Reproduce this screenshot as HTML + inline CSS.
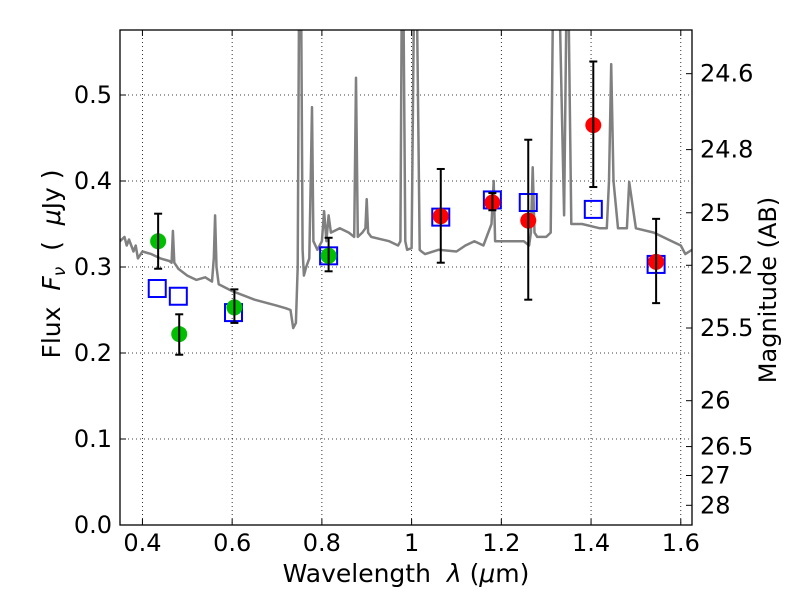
<!DOCTYPE html>
<html><head><meta charset="utf-8"><style>
body{margin:0;background:#fff}
svg text{font-family:"DejaVu Sans","Liberation Sans",sans-serif;fill:#000}
</style></head><body>
<svg id="c" width="800" height="600" xmlns="http://www.w3.org/2000/svg">
<defs><clipPath id="clip"><rect x="120" y="30" width="572" height="495"/></clipPath></defs>
<rect x="0" y="0" width="800" height="600" fill="#fff"/>
<g id="grid"></g>
<g id="spec" clip-path="url(#clip)"></g>
<g id="marks"></g>
<rect x="120" y="30" width="572" height="495" fill="none" stroke="#000" stroke-width="1.3"/>
<g id="axes"></g>
<text x="406" y="582" font-size="25" text-anchor="middle" xml:space="preserve">Wavelength  <tspan font-style="italic">λ</tspan> (<tspan font-style="italic">μ</tspan>m)</text>
<text transform="translate(60,264) rotate(-90)" font-size="25" text-anchor="middle" xml:space="preserve">Flux  <tspan font-style="italic">F<tspan font-size="17" dy="5">ν</tspan></tspan><tspan dy="-5">  (  </tspan><tspan font-style="italic">μ</tspan>Jy )</text>
<text transform="translate(776,290) rotate(-90)" font-size="24" text-anchor="middle">Magnitude (AB)</text>
</svg>
<script>
const xTicks=[0.4,0.6,0.8,1.0,1.2,1.4,1.6];
const xTickLabels=["0.4","0.6","0.8","1","1.2","1.4","1.6"];
const yTicks=[0,0.1,0.2,0.3,0.4,0.5];
const yTickLabels=["0.0","0.1","0.2","0.3","0.4","0.5"];
const magTicks=[24.6,24.8,25,25.2,25.5,26,26.5,27,28];
const magTickLabels=["24.6","24.8","25","25.2","25.5","26","26.5","27","28"];
const specLam=[0.35,0.36,0.365,0.37,0.38,0.385,0.39,0.40,0.42,0.44,0.46,0.465,0.468,0.471,0.48,0.50,0.52,0.54,0.555,0.559,0.562,0.565,0.57,0.60,0.65,0.70,0.72,0.73,0.736,0.742,0.746,0.749,0.751,0.754,0.757,0.76,0.765,0.772,0.775,0.778,0.781,0.79,0.80,0.805,0.81,0.815,0.82,0.84,0.86,0.872,0.876,0.88,0.89,0.897,0.9,0.903,0.91,0.95,0.97,0.975,0.978,0.982,0.986,0.99,1.0,1.005,1.008,1.012,1.018,1.022,1.03,1.06,1.1,1.12,1.14,1.16,1.178,1.183,1.186,1.19,1.2,1.25,1.262,1.266,1.27,1.274,1.28,1.30,1.31,1.315,1.32,1.33,1.34,1.345,1.35,1.356,1.36,1.38,1.42,1.435,1.44,1.445,1.45,1.46,1.475,1.48,1.485,1.5,1.54,1.58,1.6,1.61,1.625];
const specFlux=[0.33,0.335,0.325,0.332,0.318,0.325,0.31,0.318,0.315,0.31,0.307,0.305,0.342,0.305,0.298,0.29,0.285,0.288,0.283,0.31,0.36,0.3,0.28,0.272,0.262,0.255,0.252,0.25,0.229,0.235,0.3,0.6,0.6,0.6,0.32,0.29,0.3,0.31,0.4,0.486,0.33,0.32,0.33,0.365,0.33,0.36,0.34,0.345,0.34,0.335,0.52,0.335,0.34,0.345,0.379,0.34,0.335,0.33,0.325,0.33,0.6,0.6,0.33,0.32,0.322,0.6,0.6,0.6,0.32,0.318,0.315,0.32,0.318,0.325,0.33,0.325,0.35,0.40,0.33,0.33,0.33,0.33,0.325,0.34,0.416,0.34,0.335,0.335,0.34,0.6,0.6,0.6,0.36,0.6,0.6,0.35,0.35,0.35,0.345,0.345,0.4,0.536,0.4,0.345,0.345,0.345,0.399,0.345,0.34,0.33,0.325,0.315,0.32,0.322];
const greenLam=[0.435,0.482,0.605,0.815];
const greenFlux=[0.330,0.222,0.253,0.313];
const greenLo=[0.298,0.198,0.235,0.295];
const greenHi=[0.362,0.245,0.274,0.334];
const redLam=[1.065,1.18,1.26,1.405,1.545];
const redFlux=[0.359,0.375,0.354,0.465,0.306];
const redLo=[0.305,0.366,0.262,0.393,0.258];
const redHi=[0.414,0.386,0.448,0.539,0.356];
const modelLam=[0.433,0.48,0.603,0.815,1.065,1.18,1.26,1.405,1.545];
const modelFlux=[0.275,0.266,0.247,0.313,0.358,0.378,0.375,0.367,0.303];

const X0=120,X1=692,Y0=525,Y1=30,xmin=0.35,xmax=1.625,ymin=0,ymax=0.5756;
const sx=v=>X0+(v-xmin)/(xmax-xmin)*(X1-X0);
const sy=v=>Y0-(v-ymin)/(ymax-ymin)*(Y0-Y1);
const NS="http://www.w3.org/2000/svg";
function mk(tag,attrs,parent){const e=document.createElementNS(NS,tag);for(const k in attrs)e.setAttribute(k,attrs[k]);parent.appendChild(e);return e;}
const grid=document.getElementById('grid'),axes=document.getElementById('axes'),spec=document.getElementById('spec'),marks=document.getElementById('marks');
xTicks.forEach((t,i)=>{const x=sx(t);
 const g=mk('line',{x1:x,x2:x,y1:Y1,y2:Y0,stroke:'#000','stroke-width':0.8,'stroke-dasharray':'1,3'},grid);
 
 
 mk('line',{x1:x,x2:x,y1:Y0,y2:Y0-6,stroke:'#000'},axes);
 mk('line',{x1:x,x2:x,y1:Y1,y2:Y1+6,stroke:'#000'},axes);
 const tx=mk('text',{x:x,y:Y0+26,'font-size':24,'text-anchor':'middle'},axes);tx.textContent=xTickLabels[i];
 
 
});
yTicks.forEach((t,i)=>{const y=sy(t);
 const g=mk('line',{x1:X0,x2:X1,y1:y,y2:y,stroke:'#000','stroke-width':0.8,'stroke-dasharray':'1,3'},grid);
 
 
 mk('line',{x1:X0,x2:X0+6,y1:y,y2:y,stroke:'#000'},axes);
 const tx=mk('text',{x:X0-8,y:y+8,'font-size':24,'text-anchor':'end'},axes);tx.textContent=yTickLabels[i];
 
 
});
magTicks.forEach((m,i)=>{const f=Math.pow(10,(23.9-m)/2.5);const y=sy(f);
 mk('line',{x1:X1-6,x2:X1,y1:y,y2:y,stroke:'#000'},axes);
 const tx=mk('text',{x:X1+8,y:y+8,'font-size':24},axes);tx.textContent=magTickLabels[i];
 
 
});
const pts=specLam.map((l,i)=>sx(l).toFixed(1)+','+sy(specFlux[i]).toFixed(1)).join(' ');
const pl=mk('polyline',{points:pts,fill:'none',stroke:'#808080','stroke-width':2.5,'stroke-linejoin':'round'},spec);


function err(l,lo,hi){const x=sx(l);
 mk('line',{x1:x,x2:x,y1:sy(lo),y2:sy(hi),stroke:'#000','stroke-width':2},marks);
 mk('line',{x1:x-4,x2:x+4,y1:sy(lo),y2:sy(lo),stroke:'#000','stroke-width':2},marks);
 mk('line',{x1:x-4,x2:x+4,y1:sy(hi),y2:sy(hi),stroke:'#000','stroke-width':2},marks);}
modelLam.forEach((l,i)=>{const r=mk('rect',{x:sx(l)-8.5,y:sy(modelFlux[i])-8.5,width:17,height:17,fill:'none',stroke:'#0000ff','stroke-width':2},marks);
 
 });
greenLam.forEach((l,i)=>{const c=mk('circle',{cx:sx(l),cy:sy(greenFlux[i]),r:8,fill:'#00bf00'},marks);
 
 
 err(l,greenLo[i],greenHi[i]);});
redLam.forEach((l,i)=>{const c=mk('circle',{cx:sx(l),cy:sy(redFlux[i]),r:8,fill:'#ff0000'},marks);
 
 
 err(l,redLo[i],redHi[i]);});
</script>
</body></html>
